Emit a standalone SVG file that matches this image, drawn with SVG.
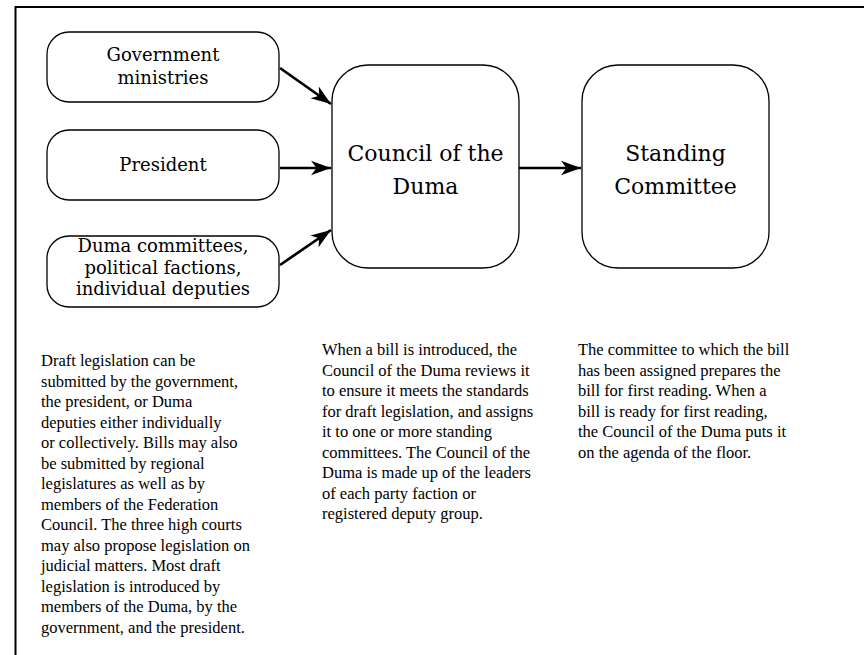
<svg xmlns="http://www.w3.org/2000/svg" width="864" height="655" viewBox="0 0 864 655">
  <defs>
    <style>
      .frame { fill: none; stroke: #000; stroke-width: 2; }
      .box { fill: #fff; stroke: #000; stroke-width: 1.3; }
      .link { fill: none; stroke: #000; stroke-width: 2.7; }
      .label { font-family: "DejaVu Serif", serif; text-anchor: middle; fill: #000; }
      .src { font-size: 18px; }
      .big { font-size: 22px; }
      .note { font-family: "Liberation Serif", "Times New Roman", serif; font-size: 16.5px; fill: #000; }
    </style>
    <marker id="barb" viewBox="-21 -8 22 16" refX="0" refY="0" markerWidth="22" markerHeight="16" markerUnits="userSpaceOnUse" orient="auto">
      <path d="M0,0 L-20,-7.2 L-14.5,0 L-20,7.2 Z" fill="#000"/>
    </marker>
  </defs>

  <rect width="864" height="655" fill="#fff"/>

  <!-- page frame: top and left rules only -->
  <path class="frame" d="M15.5,655 V7 H864"/>

  <g id="gov-ministries">
    <rect class="box" x="47" y="32" width="232" height="70" rx="22" ry="22"/>
    <text class="label src" x="163" y="61">Government</text>
    <text class="label src" x="163" y="84">ministries</text>
  </g>

  <g id="president">
    <rect class="box" x="47" y="130" width="232" height="70" rx="22" ry="22"/>
    <text class="label src" x="163" y="171">President</text>
  </g>

  <g id="duma-members">
    <rect class="box" x="47" y="236" width="232" height="71" rx="22" ry="22"/>
    <text class="label src" x="163" y="252">Duma committees,</text>
    <text class="label src" x="163" y="273.5">political factions,</text>
    <text class="label src" x="163" y="295">individual deputies</text>
  </g>

  <g id="council">
    <rect class="box" x="332" y="65" width="187" height="203" rx="36" ry="36"/>
    <text class="label big" x="425.5" y="161">Council of the</text>
    <text class="label big" x="425.5" y="194">Duma</text>
  </g>

  <g id="standing-committee">
    <rect class="box" x="582" y="65" width="187" height="203" rx="36" ry="36"/>
    <text class="label big" x="675.5" y="161">Standing</text>
    <text class="label big" x="675.5" y="194">Committee</text>
  </g>

  <g id="connectors">
    <line class="link" x1="280" y1="68" x2="331" y2="104" marker-end="url(#barb)"/>
    <line class="link" x1="280" y1="168" x2="331" y2="168" marker-end="url(#barb)"/>
    <line class="link" x1="280" y1="265" x2="331" y2="230" marker-end="url(#barb)"/>
    <line class="link" x1="519" y1="168" x2="581" y2="168" marker-end="url(#barb)"/>
  </g>

  <g id="note-sources">
    <text class="note" x="41" y="366">Draft legislation can be</text>
    <text class="note" x="41" y="386.5">submitted by the government,</text>
    <text class="note" x="41" y="407">the president, or Duma</text>
    <text class="note" x="41" y="427.5">deputies either individually</text>
    <text class="note" x="41" y="448">or collectively. Bills may also</text>
    <text class="note" x="41" y="468.5">be submitted by regional</text>
    <text class="note" x="41" y="489">legislatures as well as by</text>
    <text class="note" x="41" y="509.5">members of the Federation</text>
    <text class="note" x="41" y="530">Council. The three high courts</text>
    <text class="note" x="41" y="550.5">may also propose legislation on</text>
    <text class="note" x="41" y="571">judicial matters. Most draft</text>
    <text class="note" x="41" y="591.5">legislation is introduced by</text>
    <text class="note" x="41" y="612">members of the Duma, by the</text>
    <text class="note" x="41" y="632.5">government, and the president.</text>
  </g>

  <g id="note-council">
    <text class="note" x="322" y="355">When a bill is introduced, the</text>
    <text class="note" x="322" y="375.5">Council of the Duma reviews it</text>
    <text class="note" x="322" y="396">to ensure it meets the standards</text>
    <text class="note" x="322" y="416.5">for draft legislation, and assigns</text>
    <text class="note" x="322" y="437">it to one or more standing</text>
    <text class="note" x="322" y="457.5">committees. The Council of the</text>
    <text class="note" x="322" y="478">Duma is made up of the leaders</text>
    <text class="note" x="322" y="498.5">of each party faction or</text>
    <text class="note" x="322" y="519">registered deputy group.</text>
  </g>

  <g id="note-committee">
    <text class="note" x="578" y="355">The committee to which the bill</text>
    <text class="note" x="578" y="375.5">has been assigned prepares the</text>
    <text class="note" x="578" y="396">bill for first reading. When a</text>
    <text class="note" x="578" y="416.5">bill is ready for first reading,</text>
    <text class="note" x="578" y="437">the Council of the Duma puts it</text>
    <text class="note" x="578" y="457.5">on the agenda of the floor.</text>
  </g>
</svg>
